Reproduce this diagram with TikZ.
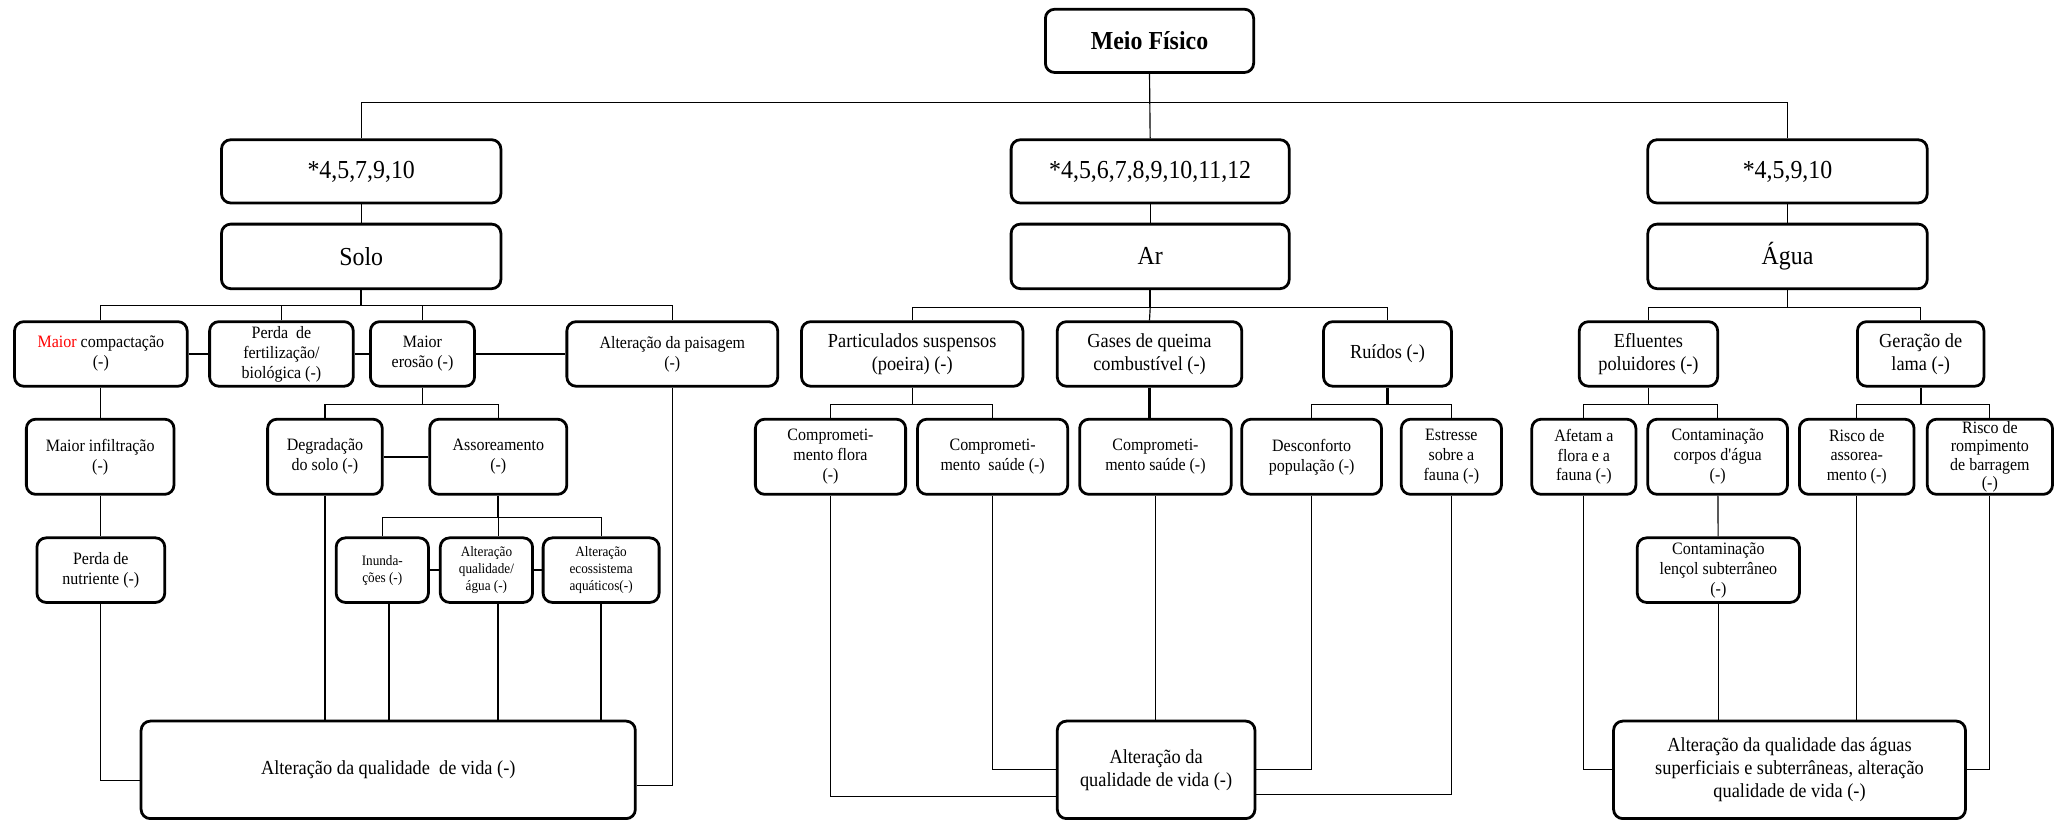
\documentclass[tikz,border=0pt]{standalone}
\usepackage{fontspec}
\setmainfont{Liberation Serif}[FakeStretch=0.92]
\usepackage{xcolor}

\begin{document}
\begin{tikzpicture}[x=0.02cm, y=-0.02cm,
        box/.style={draw, rounded corners=4pt, line width=1.2pt, align=center, inner sep=1pt},
        big/.style={font=\fontsize{11.2}{13}\selectfont},
        mid/.style={font=\fontsize{8.6}{9.8}\selectfont},
        sml/.style={font=\fontsize{7.5}{8.6}\selectfont},
        tny/.style={font=\fontsize{6.2}{7.3}\selectfont},
        rowa/.style={minimum height=0.96cm},
        rowc/.style={minimum height=0.98cm},
        rowd/.style={minimum height=1.14cm},
        rowf/.style={minimum height=1.48cm},
        link/.style={line width=0.5pt},
        tlink/.style={line width=1pt}]
            \useasboundingbox (0,0) rectangle (1568,622);

            \node[box,big,rowa,minimum width=3.16cm] (meio) at (872,31) {\textbf{Meio Físico}};

            \node[box,big,rowa,minimum width=4.24cm] (numSolo) at (274,130) {*4,5,7,9,10};
            \node[box,big,rowa,minimum width=4.22cm] (numAr) at (872.5,130) {*4,5,6,7,8,9,10,11,12};
            \node[box,big,rowa,minimum width=4.24cm] (numAgua) at (1356,130) {*4,5,9,10};

            \node[box,big,rowc,minimum width=4.24cm] (solo) at (274,194.5) {Solo};
            \node[box,big,rowc,minimum width=4.22cm] (ar) at (872.5,194.5) {Ar};
            \node[box,big,rowc,minimum width=4.24cm] (agua) at (1356,194.5) {Água};

            \node[box,sml,rowc,minimum width=2.62cm] (comp) at (76.5,268.5) {\textcolor{red}{Maior} compactação\\(-)};
            \node[box,sml,rowc,minimum width=2.18cm] (perda) at (213.5,268.5) {Perda \ de\\fertilização/\\biológica (-)};
            \node[box,sml,rowc,minimum width=1.58cm] (erosao) at (320.5,268.5) {Maior\\erosão (-)};
            \node[box,sml,rowc,minimum width=3.20cm] (paisagem) at (510,268.5) {Alteração da paisagem\\(-)};
            \node[box,mid,rowc,minimum width=3.36cm] (part) at (692,268.5) {Particulados suspensos\\(poeira) (-)};
            \node[box,mid,rowc,minimum width=2.80cm] (gases) at (872,268.5) {Gases de queima\\combustível (-)};
            \node[box,mid,rowc,minimum width=1.94cm] (ruido) at (1052.5,268.5) {Ruídos (-)};
            \node[box,mid,rowc,minimum width=2.10cm] (eflu) at (1250.5,268.5) {Efluentes\\poluidores (-)};
            \node[box,mid,rowc,minimum width=1.92cm] (lama) at (1457,268.5) {Geração de\\lama (-)};

            \node[box,sml,rowd,minimum width=2.24cm] (infil) at (76,346.5) {Maior infiltração\\(-)};
            \node[box,sml,rowd,minimum width=1.74cm] (deg) at (246.5,346.5) {Degradação\\do solo (-)};
            \node[box,sml,rowd,minimum width=2.08cm] (assor) at (378,346.5) {Assoreamento\\(-)};
            \node[box,sml,rowd,minimum width=2.28cm] (cflora) at (630,346.5) {Comprometi-\\mento flora\\(-)};
            \node[box,sml,rowd,minimum width=2.28cm] (csaude) at (753,346.5) {Comprometi-\\mento \ saúde (-)};
            \node[box,sml,rowd,minimum width=2.30cm] (csaudeB) at (876.5,346.5) {Comprometi-\\mento saúde (-)};
            \node[box,sml,rowd,minimum width=2.12cm] (descon) at (995,346.5) {Desconforto\\população (-)};
            \node[box,sml,rowd,minimum width=1.52cm] (estresse) at (1101,346.5) {Estresse\\sobre a\\fauna (-)};
            \node[box,sml,rowd,minimum width=1.58cm] (afetam) at (1201.5,346.5) {Afetam a\\flora e a\\fauna (-)};
            \node[box,sml,rowd,minimum width=2.12cm] (contc) at (1303,346.5) {Contaminação\\corpos d\textquotesingle água\\(-)};
            \node[box,sml,rowd,minimum width=1.74cm] (riscoA) at (1408.5,346.5) {Risco de\\assorea-\\mento (-)};
            \node[box,rowd,minimum width=1.90cm,inner ysep=0pt,font=\fontsize{7.5}{7.9}\selectfont] (riscoB) at (1509.5,346.5) {Risco de\\rompimento\\de barragem\\(-)};

            \node[box,sml,rowc,minimum width=1.94cm] (nutri) at (76.5,432.5) {Perda de\\nutriente (-)};
            \node[box,tny,rowc,minimum width=1.40cm] (inund) at (290,432.5) {Inunda-\\ções (-)};
            \node[box,tny,rowc,minimum width=1.40cm] (qual) at (369,432.5) {Alteração\\qualidade/\\água (-)};
            \node[box,tny,rowc,minimum width=1.76cm] (ecos) at (456,432.5) {Alteração\\ecossistema\\aquáticos(-)};
            \node[box,sml,rowc,minimum width=2.46cm] (contl) at (1303.5,432.5) {Contaminação\\lençol subterrâneo\\(-)};

            \node[box,mid,rowf,minimum width=7.50cm] (vidaSolo) at (294.5,584) {Alteração da qualidade \ de vida (-)};
            \node[box,mid,rowf,minimum width=3.00cm] (vidaAr) at (877,584) {Alteração da\\qualidade de vida (-)};
            \node[box,mid,rowf,minimum width=5.34cm] (vidaAgua) at (1357.5,584) {Alteração da qualidade das águas\\superficiais e subterrâneas, alteração\\qualidade de vida (-)};

            \coordinate (top) at (872,78);
            \draw[link] (meio.south) -- (numAr.north);
            \draw[link] (numSolo.north) |- (top) -| (numAgua.north);
            \draw[link] (numSolo) -- (solo);
            \draw[link] (numAr) -- (ar);
            \draw[link] (numAgua) -- (agua);

            \draw[tlink] (solo.south) -- ++(0,12) coordinate (s0);
            \draw[link] (comp.north) |- (s0) -| (paisagem.north);
            \draw[link] (perda.north) -- (perda.north |- s0);
            \draw[link] (erosao.north) -- (erosao.north |- s0);
            \draw[tlink] (comp) -- (perda);
            \draw[tlink] (perda) -- (erosao);
            \draw[link] (erosao) -- (paisagem);
            \draw[link] (comp.south) -- (comp.south |- infil.north);
            \draw[link] (infil.south) -- (infil.south |- nutri.north);
            \draw[link] (nutri.south) |- ([yshift=-0.16cm]vidaSolo.west);
            \draw[link] (erosao.south) -- ++(0,12.5) coordinate (s1);
            \draw[link] (deg.north) |- (s1) -| (assor.north);
            \draw[tlink] (deg) -- (assor);
            \draw[tlink] (assor.south) -- ++(0,16.5) coordinate (s2);
            \draw[link] (inund.north) |- (s2) -| (ecos.north);
            \draw[link] (s2) -- (s2 |- qual.north);
            \draw[tlink] (inund) -- (qual);
            \draw[tlink] (qual) -- (ecos);
            \draw[tlink] (deg.south) -- (deg.south |- vidaSolo.north);
            \draw[tlink] ([xshift=0.1cm]inund.south) -- ([xshift=0.1cm]inund.south |- vidaSolo.north);
            \draw[tlink] (s2 |- qual.south) -- (s2 |- vidaSolo.north);
            \draw[tlink] (ecos.south) -- (ecos.south |- vidaSolo.north);
            \draw[link] (paisagem.south) |- ([yshift=-0.24cm]vidaSolo.east);

            \draw[tlink] (ar.south) -- ++(0,13.5) coordinate (a0);
            \draw[link] (part.north) |- (a0) -| (ruido.north);
            \draw[link] (a0) -- (gases.north);
            \draw[link] (part.south) -- ++(0,12.5) coordinate (a1);
            \draw[link] (cflora.north) |- (a1) -| (csaude.north);
            \draw[tlink] (gases.south) -- (gases.south |- csaudeB.north);
            \draw[tlink] (ruido.south) -- ++(0,12.5) coordinate (a2);
            \draw[link] (descon.north) |- (a2) -| (estresse.north);
            \draw[link] (cflora.south) |- ([yshift=-0.4cm]vidaAr.west);
            \draw[link] (csaude.south) |- (vidaAr.west);
            \draw[link] (csaudeB.south) -- (csaudeB.south |- vidaAr.north);
            \draw[link] (descon.south) |- (vidaAr.east);
            \draw[link] (estresse.south) |- ([yshift=-0.38cm]vidaAr.east);

            \draw[link] (agua.south) -- ++(0,13.5) coordinate (w0);
            \draw[link] (eflu.north) |- (w0) -| (lama.north);
            \draw[link] (eflu.south) -- ++(0,12.5) coordinate (w1);
            \draw[link] (afetam.north) |- (w1) -| (contc.north);
            \draw[tlink] (lama.south) -- ++(0,12.5) coordinate (w2);
            \draw[link] (riscoA.north) |- (w2) -| (riscoB.north);
            \draw[link] (contc) -- (contl);
            \draw[link] (contl.south) -- (contl.south |- vidaAgua.north);
            \draw[link] (afetam.south) |- (vidaAgua.west);
            \draw[link] (riscoA.south) -- (riscoA.south |- vidaAgua.north);
            \draw[link] (riscoB.south) |- (vidaAgua.east);
\end{tikzpicture}
\end{document}
